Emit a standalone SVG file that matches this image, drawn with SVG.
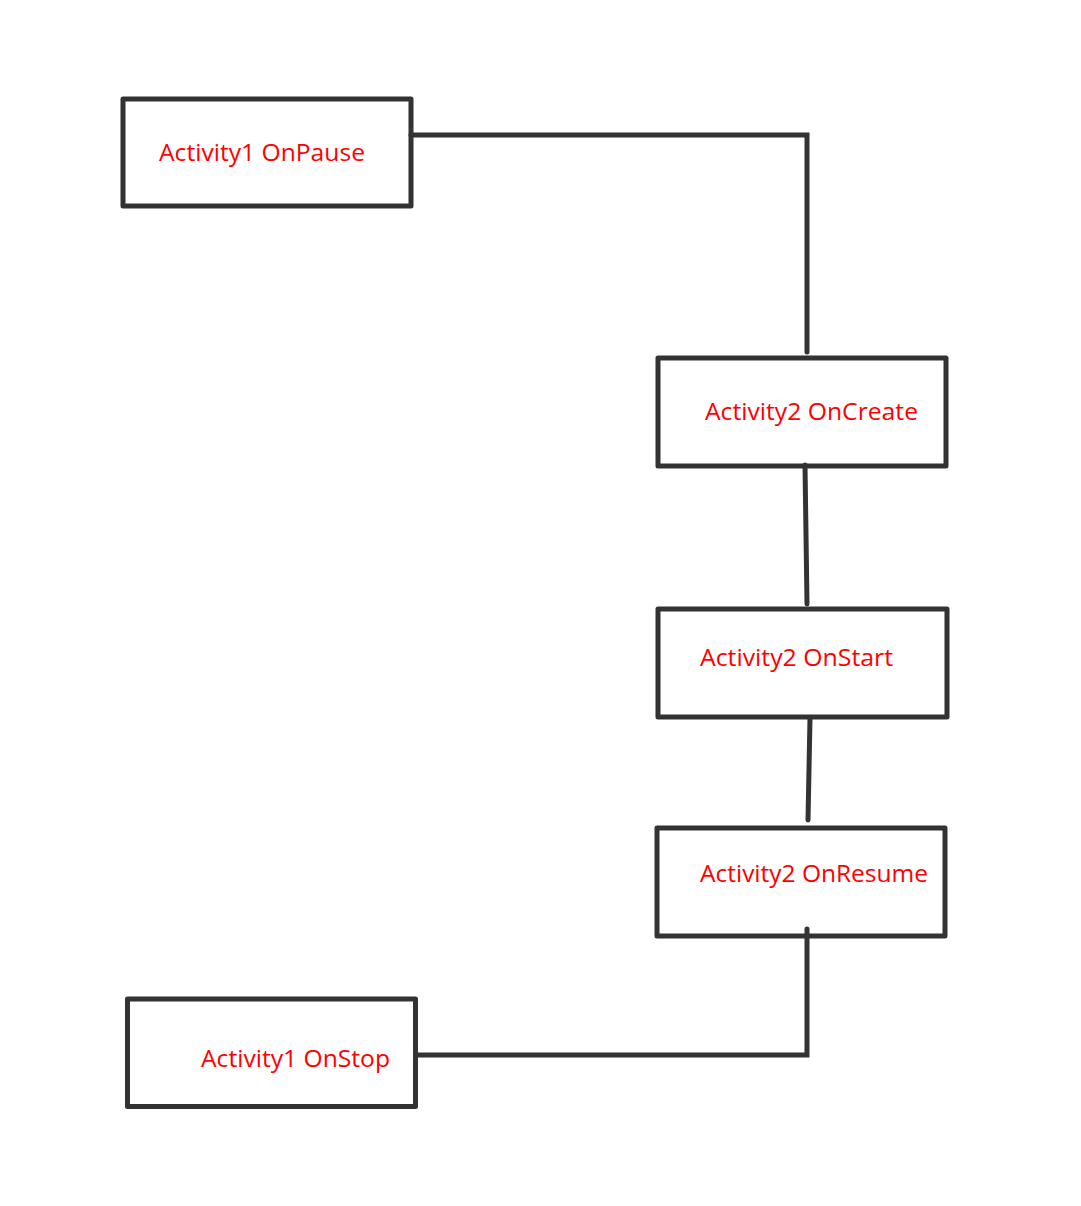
<svg xmlns="http://www.w3.org/2000/svg" width="1081" height="1206" viewBox="0 0 1081 1206">
<style>
.box{fill:#fff;stroke:#333;stroke-width:5;stroke-linejoin:round}
.lbl{font-family:"Open Sans","Noto Sans","Liberation Sans",sans-serif;font-size:23px;fill:#ff0000}
.conn{fill:none;stroke:#333;stroke-width:5;stroke-linecap:round;stroke-linejoin:miter}
</style>
<rect width="1081" height="1206" fill="#fff"/>
<g id="n1">
<rect class="box" x="123" y="99" width="288" height="107"/>
<text class="lbl" x="159" y="161" textLength="206" lengthAdjust="spacingAndGlyphs">Activity1 OnPause</text>
</g>
<g id="n2">
<rect class="box" x="658" y="358" width="288" height="108"/>
<text class="lbl" x="705" y="420" textLength="213" lengthAdjust="spacingAndGlyphs">Activity2 OnCreate</text>
</g>
<g id="n3">
<rect class="box" x="658" y="609" width="289" height="108"/>
<text class="lbl" x="700" y="666" textLength="193" lengthAdjust="spacingAndGlyphs">Activity2 OnStart</text>
</g>
<g id="n4">
<rect class="box" x="657" y="828" width="288" height="108"/>
<text class="lbl" x="700" y="882" textLength="228" lengthAdjust="spacingAndGlyphs">Activity2 OnResume</text>
</g>
<g id="n5">
<rect class="box" x="127.5" y="999" width="288" height="107.5"/>
<text class="lbl" x="201" y="1067" textLength="189" lengthAdjust="spacingAndGlyphs">Activity1 OnStop</text>
</g>
<g id="connectors">
<polyline class="conn" points="411,135 807,135 807,352"/>
<line class="conn" x1="805" y1="465" x2="807" y2="604"/>
<line class="conn" x1="810" y1="718" x2="808" y2="820"/>
<polyline class="conn" points="807,929 807,1055 417,1055"/>
</g>
</svg>
